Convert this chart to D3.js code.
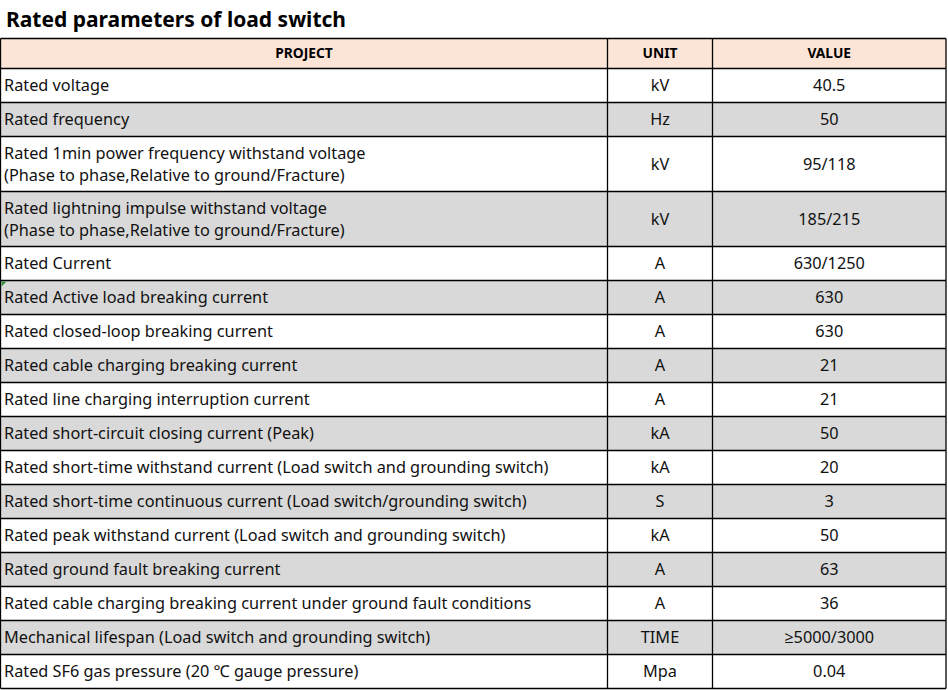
<!DOCTYPE html>
<html>
<head>
<meta charset="utf-8">
<script src="https://cdn.jsdelivr.net/npm/d3@7"></script>
<style>
  html, body { margin: 0; padding: 0; background: #fff; }
  svg { display: block; }
</style>
</head>
<body>
<svg id="chart" width="948" height="690"></svg>
<script>
const title = "Rated parameters of load switch";
const headers = ["PROJECT", "UNIT", "VALUE"];
const projects = [
  "Rated voltage",
  "Rated frequency",
  "Rated 1min power frequency withstand voltage\n(Phase to phase,Relative to ground/Fracture)",
  "Rated lightning impulse withstand voltage\n(Phase to phase,Relative to ground/Fracture)",
  "Rated Current",
  "Rated Active load breaking current",
  "Rated closed-loop breaking current",
  "Rated cable charging breaking current",
  "Rated line charging interruption current",
  "Rated short-circuit closing current (Peak)",
  "Rated short-time withstand current (Load switch and grounding switch)",
  "Rated short-time continuous current (Load switch/grounding switch)",
  "Rated peak withstand current (Load switch and grounding switch)",
  "Rated ground fault breaking current",
  "Rated cable charging breaking current under ground fault conditions",
  "Mechanical lifespan (Load switch and grounding switch)",
  "Rated SF6 gas pressure (20 \u2103 gauge pressure)"
];
const units = ["kV","Hz","kV","kV","A","A","A","A","A","kA","kA","S","kA","A","A","TIME","Mpa"];
const values = ["40.5","50","95/118","185/215","630/1250","630","630","21","21","50","20","3","50","63","36","\u22655000/3000","0.04"];

// layout
const colEdges = [0.5, 607.5, 712.5, 946];
const tableTop = 38.5;
const headerH = 30;
const singleH = 34;
const doubleH = 55;
const lineGap = 22.5;
const fontFamily = "'Noto Sans', 'Open Sans', sans-serif";

const svg = d3.select("#chart");

svg.append("text")
  .attr("x", 6).attr("y", 27)
  .attr("font-family", fontFamily)
  .attr("font-weight", "bold")
  .attr("font-size", 21)
  .attr("fill", "#000")
  .text(title);

const rows = projects.map((p, i) => ({
  lines: p.split("\n"), unit: units[i], value: values[i], i
}));
let y = tableTop + headerH;
rows.forEach(r => { r.y = y; r.h = r.lines.length > 1 ? doubleH : singleH; y += r.h; });
const tableBottom = y;

// header
svg.append("rect")
  .attr("x", colEdges[0]).attr("y", tableTop)
  .attr("width", colEdges[3] - colEdges[0]).attr("height", headerH)
  .attr("fill", "#fce4d6");

headers.forEach((h, c) => {
  svg.append("text")
    .attr("x", (colEdges[c] + colEdges[c + 1]) / 2)
    .attr("y", tableTop + headerH / 2)
    .attr("dy", "0.35em")
    .attr("text-anchor", "middle")
    .attr("font-family", fontFamily)
    .attr("font-weight", "bold")
    .attr("font-size", 13.8)
    .attr("fill", "#000")
    .text(h);
});

const g = svg.append("g");
const rowG = g.selectAll("g.row").data(rows).join("g").attr("class", "row");

rowG.append("rect")
  .attr("x", colEdges[0]).attr("y", d => d.y)
  .attr("width", colEdges[3] - colEdges[0]).attr("height", d => d.h)
  .attr("fill", d => d.i % 2 === 1 ? "#d9d9d9" : "#ffffff");

rowG.each(function(d) {
  const sel = d3.select(this);
  const cy = d.y + d.h / 2;
  const n = d.lines.length;
  d.lines.forEach((ln, k) => {
    sel.append("text")
      .attr("x", colEdges[0] + 3.5)
      .attr("y", cy + (k - (n - 1) / 2) * lineGap)
      .attr("dy", "0.36em")
      .attr("font-family", fontFamily)
      .attr("font-size", 16.3)
      .attr("fill", "#111")
      .text(ln);
  });
  [d.unit, d.value].forEach((t, c) => {
    sel.append("text")
      .attr("x", (colEdges[c + 1] + colEdges[c + 2]) / 2)
      .attr("y", cy)
      .attr("dy", "0.36em")
      .attr("text-anchor", "middle")
      .attr("font-family", fontFamily)
      .attr("font-size", 16.3)
      .attr("fill", "#111")
      .text(t);
  });
});

// grid lines
const hLines = [tableTop, tableTop + headerH].concat(rows.map(r => r.y + r.h));
g.selectAll("line.h").data(hLines).join("line")
  .attr("x1", colEdges[0]).attr("x2", colEdges[3])
  .attr("y1", d => d).attr("y2", d => d)
  .attr("stroke", "#000").attr("stroke-width", 1.3);
g.selectAll("line.v").data(colEdges).join("line")
  .attr("x1", d => d).attr("x2", d => d)
  .attr("y1", tableTop).attr("y2", tableBottom)
  .attr("stroke", "#000").attr("stroke-width", 1.3);

// small green indicator mark
const mark = rows[5];
svg.append("path")
  .attr("d", `M${colEdges[0] + 1},${mark.y + 1} h5 l-5,5 z`)
  .attr("fill", "#2e8b3a");
</script>
</body>
</html>
